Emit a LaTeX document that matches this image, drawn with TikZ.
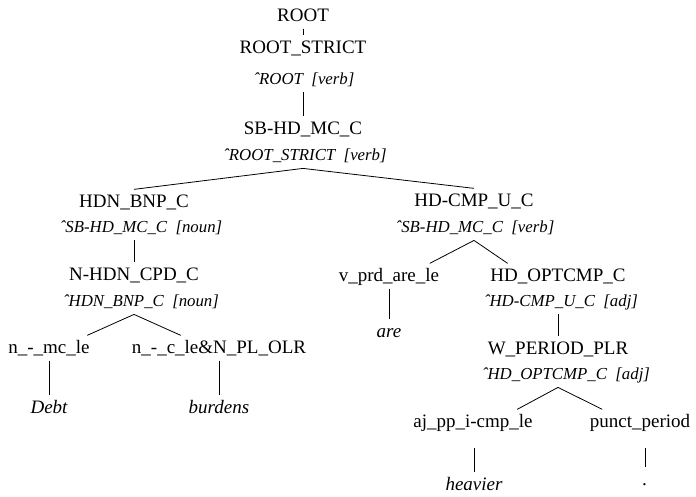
\documentclass[tikz,border=0pt]{standalone}
\usepackage{fontspec}
\setmainfont{Liberation Serif}
\usepackage{tikz}
\usetikzlibrary{calc}

\tikzset{
  cat/.style={font=\fontsize{19}{21}\selectfont, text height=13.5pt, text depth=3pt, inner sep=4pt},
  lab/.style={font=\fontsize{16.8}{18}\selectfont\itshape, text height=12pt, text depth=4pt, inner sep=4pt},
  word/.style={cat, font=\fontsize{19}{21}\selectfont\itshape},
}

\begin{document}
\begin{tikzpicture}[x=1pt, y=-1pt, line width=0.8pt]

\useasboundingbox (0,0) rectangle (696,496);

% upper spine
\node[cat] (root) at (303,16) {ROOT};
\node[cat] (rstrict) at (303,48) {ROOT\_STRICT};
\node[lab] (rstrictL) at (304,80) {ˆROOT\enspace[verb]};
\node[cat] (sbhd) at (303,129) {SB-HD\_MC\_C};
\node[lab] (sbhdL) at (305,156) {ˆROOT\_STRICT\enspace[verb]};

% left subtree
\node[cat] (hdnbnp) at (134,202) {HDN\_BNP\_C};
\node[lab] (hdnbnpL) at (141,228) {ˆSB-HD\_MC\_C\enspace[noun]};
\node[cat] (nhdn) at (134,275) {N-HDN\_CPD\_C};
\node[lab] (nhdnL) at (141,302) {ˆHDN\_BNP\_C\enspace[noun]};
\node[cat] (nmc) at (49,348) {n\_-\_mc\_le};
\node[cat] (nc) at (219,348) {n\_-\_c\_le\&N\_PL\_OLR};
\node[word] (debt) at (49,408) {Debt};
\node[word] (burdens) at (219,408) {burdens};

% right subtree
\node[cat] (hdcmp) at (474,201) {HD-CMP\_U\_C};
\node[lab] (hdcmpL) at (475,228) {ˆSB-HD\_MC\_C\enspace[verb]};
\node[cat] (vprd) at (389,276) {v\_prd\_are\_le};
\node[word] (are) at (389,332) {are};
\node[cat] (hdopt) at (558,276) {HD\_OPTCMP\_C};
\node[lab] (hdoptL) at (561,302) {ˆHD-CMP\_U\_C\enspace[adj]};
\node[cat] (wper) at (558,349) {W\_PERIOD\_PLR};
\node[lab] (wperL) at (566,375) {ˆHD\_OPTCMP\_C\enspace[adj]};
\node[cat] (ajpp) at (473,422) {aj\_pp\_i-cmp\_le};
\node[cat] (punct) at (640,422) {punct\_period};
\node[word] (heavier) at (474,485) {heavier};
\node[word] (period) at (645,480) {.};

\foreach \p/\l/\c/\f in {root/root/rstrict/1, rstrict/rstrictL/sbhd/1,
  sbhd/sbhdL/hdnbnp/1, sbhd/sbhdL/hdcmp/1, hdnbnp/hdnbnpL/nhdn/1,
  nhdn/nhdnL/nmc/.55, nhdn/nhdnL/nc/.55, hdcmp/hdcmpL/vprd/.52,
  hdcmp/hdcmpL/hdopt/.4, hdopt/hdoptL/wper/1, wper/wperL/ajpp/.48,
  wper/wperL/punct/.54, nmc/nmc/debt/1, nc/nc/burdens/1, vprd/vprd/are/1}
{
  \coordinate (m) at ($(\p)!\f!(\c)$);
  \draw (\p |- \l.south) -- (m |- \c.north);
}

\draw[shorten <=13pt] (heavier |- ajpp.south) -- (heavier);
\draw[shorten <=13pt] (period |- punct.south) -- (period);

\end{tikzpicture}
\end{document}
